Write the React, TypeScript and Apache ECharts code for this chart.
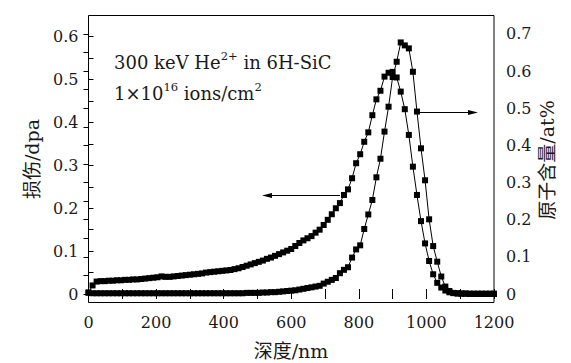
import React, { useEffect, useRef } from "react";
import * as echarts from "echarts";

// depth (nm)
const depth = [
  0, 12, 24, 36, 48, 60, 72, 84, 96, 108, 120, 132, 144, 156, 168, 180, 192, 204, 216, 228,
  240, 252, 264, 276, 288, 300, 312, 324, 336, 348, 360, 372, 384, 396, 408, 420, 432, 444, 456, 468,
  480, 492, 504, 516, 528, 540, 552, 564, 576, 588, 600, 612, 624, 636, 648, 660, 672, 684, 696, 708,
  720, 732, 744, 756, 768, 780, 792, 804, 816, 828, 840, 852, 864, 876, 888, 900, 912, 924, 936, 948,
  960, 972, 984, 996, 1008, 1020, 1032, 1044, 1056, 1068, 1080, 1092, 1104, 1116, 1128, 1140, 1152, 1164, 1176, 1188,
  1200,
];

// damage (dpa) – left axis
const damage = [
  0.003, 0.020, 0.029, 0.030, 0.030, 0.031, 0.031, 0.032, 0.032, 0.033, 0.033, 0.034, 0.034, 0.035, 0.036, 0.037, 0.038, 0.039, 0.041, 0.040,
  0.040, 0.041, 0.042, 0.043, 0.044, 0.045, 0.046, 0.047, 0.048, 0.050, 0.051, 0.052, 0.053, 0.054, 0.055, 0.056, 0.058, 0.060, 0.063, 0.066,
  0.069, 0.072, 0.075, 0.078, 0.082, 0.085, 0.089, 0.093, 0.097, 0.101, 0.105, 0.112, 0.119, 0.125, 0.130, 0.135, 0.143, 0.150, 0.161, 0.173,
  0.186, 0.200, 0.212, 0.231, 0.244, 0.270, 0.305, 0.326, 0.355, 0.377, 0.417, 0.454, 0.474, 0.507, 0.516, 0.518, 0.505, 0.472, 0.431, 0.371,
  0.297, 0.231, 0.170, 0.118, 0.077, 0.046, 0.026, 0.015, 0.008, 0.004, 0.002, 0.001, 0.001, 0.001, 0.000, 0.000, 0.000, 0.000, 0.000, 0.000,
  0.000,
];

// He atomic content (at%) – right axis
const helium = [
  0.004, 0.002, 0.002, 0.002, 0.002, 0.002, 0.002, 0.002, 0.002, 0.002, 0.002, 0.002, 0.002, 0.002, 0.002, 0.002, 0.002, 0.002, 0.002, 0.002,
  0.002, 0.002, 0.002, 0.002, 0.002, 0.002, 0.002, 0.002, 0.002, 0.002, 0.002, 0.002, 0.002, 0.002, 0.002, 0.002, 0.002, 0.002, 0.002, 0.003,
  0.003, 0.003, 0.003, 0.004, 0.004, 0.005, 0.005, 0.006, 0.007, 0.008, 0.009, 0.010, 0.012, 0.014, 0.016, 0.018, 0.020, 0.022, 0.028, 0.033,
  0.038, 0.043, 0.056, 0.065, 0.072, 0.098, 0.120, 0.131, 0.175, 0.214, 0.253, 0.314, 0.364, 0.437, 0.504, 0.584, 0.625, 0.677, 0.669, 0.661,
  0.598, 0.491, 0.392, 0.306, 0.201, 0.129, 0.087, 0.047, 0.020, 0.008, 0.003, 0.002, 0.001, 0.001, 0.001, 0.001, 0.001, 0.001, 0.001, 0.001,
  0.001,
];

const xTickLabels = [0, 200, 400, 600, 800, 1000, 1200];

const SERIF = "'DejaVu Serif', 'Noto Sans CJK SC', serif";
const MIXED = "'DejaVu Serif', 'Noto Sans CJK SC', sans-serif";

export default function App() {
  const ref = useRef<HTMLDivElement>(null);

  useEffect(() => {
    if (!ref.current) return;
    const chart = echarts.init(ref.current, null, { renderer: "svg" });

    const yLabelFmt = (v: number) => {
      const k = Math.round(v * 100);
      if (k % 10 !== 0) return "";
      return k === 0 ? "0" : (k / 100).toFixed(1);
    };
    const xLabelFmt = (v: number) => (xTickLabels.includes(Math.round(v)) ? String(Math.round(v)) : "");

    const tickCommon = { show: true, inside: true, length: 5, lineStyle: { color: "#000", width: 1 } };
    const labelCommon = { fontFamily: SERIF, fontSize: 16, color: "#1a1a1a" };
    const richText = {
      n: { fontFamily: SERIF, fontSize: 18, lineHeight: 24, fill: "#1a1a1a" },
      s: { fontFamily: SERIF, fontSize: 11.5, lineHeight: 13, verticalAlign: "top", fill: "#1a1a1a" },
    };

    const option: any = {
      animation: false,
      backgroundColor: "#fff",
      grid: { left: 88.5, right: 77, top: 15.3, bottom: 69, containLabel: false },
      xAxis: [
        {
          type: "value",
          position: "bottom",
          offset: 8.3,
          min: 0,
          max: 1200,
          interval: 100,
          axisLine: { show: false },
          axisTick: tickCommon,
          splitLine: { show: false },
          axisLabel: { ...labelCommon, margin: 12, formatter: xLabelFmt, showMinLabel: true, showMaxLabel: true },
        },
        {
          type: "value",
          position: "top",
          min: 0,
          max: 1200,
          interval: 100,
          axisLine: { show: false },
          axisTick: tickCommon,
          splitLine: { show: false },
          axisLabel: { show: false },
        },
      ],
      yAxis: [
        {
          type: "value",
          position: "left",
          min: 0,
          max: 0.65,
          interval: 0.05,
          axisLine: { show: false },
          axisTick: tickCommon,
          splitLine: { show: false },
          axisLabel: { ...labelCommon, margin: 10, formatter: yLabelFmt, showMaxLabel: false },
        },
        {
          type: "value",
          position: "right",
          min: 0,
          max: 0.75,
          interval: 0.05,
          axisLine: { show: false },
          axisTick: tickCommon,
          splitLine: { show: false },
          axisLabel: { ...labelCommon, margin: 12, formatter: yLabelFmt, showMaxLabel: false },
        },
      ],
      series: [
        {
          name: "损伤",
          type: "line",
          xAxisIndex: 0,
          yAxisIndex: 0,
          data: depth.map((d, i) => [d, damage[i]]),
          symbol: "rect",
          symbolSize: 6,
          showAllSymbol: true,
          clip: false,
          lineStyle: { color: "#000", width: 1 },
          itemStyle: { color: "#000" },
        },
        {
          name: "原子含量",
          type: "line",
          xAxisIndex: 0,
          yAxisIndex: 1,
          data: depth.map((d, i) => [d, helium[i]]),
          symbol: "rect",
          symbolSize: 6,
          showAllSymbol: true,
          clip: false,
          lineStyle: { color: "#000", width: 1 },
          itemStyle: { color: "#000" },
        },
      ],
      graphic: [
        {
          type: "rect",
          silent: true,
          z: 100,
          shape: { x: 88.5, y: 15.5, width: 405.5, height: 287 },
          style: { fill: "none", stroke: "#000", lineWidth: 1 },
        },
        // arrows
        {
          type: "line",
          silent: true,
          shape: { x1: 340, y1: 195.5, x2: 268, y2: 195.5 },
          style: { stroke: "#000", lineWidth: 1 },
        },
        {
          type: "polygon",
          silent: true,
          shape: { points: [[262, 195.5], [272, 193], [272, 198]] },
          style: { fill: "#000" },
        },
        {
          type: "line",
          silent: true,
          shape: { x1: 418, y1: 112.5, x2: 472, y2: 112.5 },
          style: { stroke: "#000", lineWidth: 1 },
        },
        {
          type: "polygon",
          silent: true,
          shape: { points: [[478, 112.5], [468, 110], [468, 115]] },
          style: { fill: "#000" },
        },
        // annotation
        {
          type: "text",
          silent: true,
          x: 114,
          y: 62,
          style: {
            text: "{n|300 keV He}{s|2+}{n| in 6H-SiC}",
            verticalAlign: "middle",
            align: "left",
            fill: "#1a1a1a",
            rich: richText,
          },
        },
        {
          type: "text",
          silent: true,
          x: 114,
          y: 93,
          style: {
            text: "{n|1×10}{s|16}{n| ions/cm}{s|2}",
            verticalAlign: "middle",
            align: "left",
            fill: "#1a1a1a",
            rich: richText,
          },
        },
        // axis names
        {
          type: "text",
          silent: true,
          x: 32,
          y: 159,
          rotation: Math.PI / 2,
          style: { text: "损伤/dpa", fontFamily: MIXED, fontSize: 19, fill: "#1a1a1a", align: "center", verticalAlign: "middle" },
        },
        {
          type: "text",
          silent: true,
          x: 547,
          y: 160,
          rotation: Math.PI / 2,
          style: { text: "原子含量/at%", fontFamily: MIXED, fontSize: 19, fill: "#1a1a1a", align: "center", verticalAlign: "middle" },
        },
        {
          type: "text",
          silent: true,
          x: 291,
          y: 351,
          style: { text: "深度/nm", fontFamily: MIXED, fontSize: 19, fill: "#1a1a1a", align: "center", verticalAlign: "middle" },
        },
      ],
    };

    chart.setOption(option);
    return () => chart.dispose();
  }, []);

  return (
    <div
      ref={ref}
      style={{ position: "absolute", left: 0, top: 0, width: 571, height: 363, background: "#fff" }}
    />
  );
}
